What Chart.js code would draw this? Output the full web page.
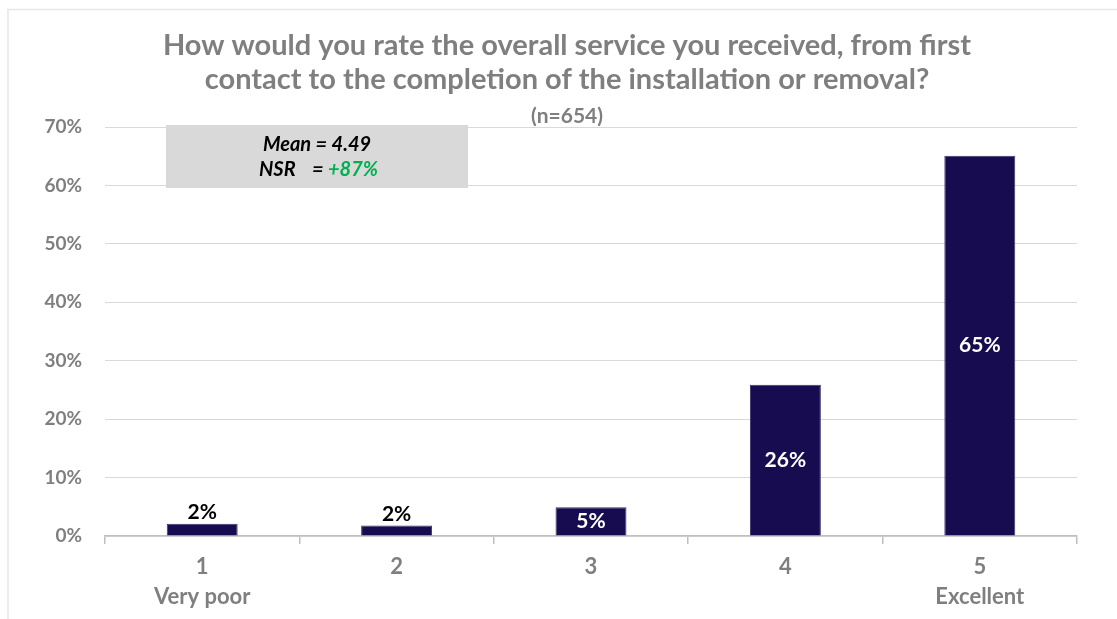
<!DOCTYPE html>
<html>
<head>
<meta charset="utf-8">
<script src="https://cdn.jsdelivr.net/npm/chart.js@4.4.1/dist/chart.umd.min.js"></script>
<style>
  html, body { margin: 0; padding: 0; background: #ffffff; }
  #wrap { position: relative; width: 1117px; height: 619px; }
  canvas { display: block; }
</style>
</head>
<body>
<div id="wrap"><canvas id="chart" width="1117" height="619"></canvas></div>
<script>
// Rating scale categories (multi-line tick labels)
const categories = [["1", "Very poor"], ["2", ""], ["3", ""], ["4", ""], ["5", "Excellent"]];
// Share of respondents per rating, in percent
const shares = [2.1, 1.8, 4.9, 25.9, 65.1];
// Where each value label sits: above the bar or centred inside it
const labelPlacement = ["above", "above", "inside", "inside", "inside"];
// Value axis ticks
const yTicks = [0, 10, 20, 30, 40, 50, 60, 70];

const titleLines = [
  "How would you rate the overall service you received, from first",
  "contact to the completion of the installation or removal?"
];
const subtitleText = "(n=654)";
const meanText = "Mean = 4.49";
const nsrLabel = "NSR";
const nsrValue = "+87%";

const FONT = "Lato, 'Open Sans', 'Liberation Sans', sans-serif";
const GREY = "#7f7f7f";
const BAR = "#170c4f";

// Frame, headline and summary box
const decorations = {
  id: "decorations",
  beforeDraw(chart) {
    const ctx = chart.ctx;
    const W = chart.width, H = chart.height;
    ctx.save();
    ctx.fillStyle = "#ffffff";
    ctx.fillRect(0, 0, W, H);
    // light frame (top and left edges visible)
    ctx.strokeStyle = "#e6e6e6";
    ctx.lineWidth = 1.5;
    ctx.beginPath();
    ctx.moveTo(8, H);
    ctx.lineTo(8, 9.5);
    ctx.lineTo(W, 9.5);
    ctx.stroke();

    // headline
    ctx.fillStyle = GREY;
    ctx.textAlign = "center";
    ctx.textBaseline = "middle";
    ctx.font = "bold 29px " + FONT;
    ctx.fillText(titleLines[0], 567, 46);
    ctx.fillText(titleLines[1], 567, 80);
    ctx.font = "bold 21px " + FONT;
    ctx.fillText(subtitleText, 567, 116);
    ctx.restore();
  },
  afterDatasetsDraw(chart) {
    const ctx = chart.ctx;
    const area = chart.chartArea;
    ctx.save();
    // summary box
    const bx = area.left + 61, by = area.top - 2, bw = 302, bh = 63;
    ctx.fillStyle = "#d9d9d9";
    ctx.fillRect(bx, by, bw, bh);
    const cx = bx + bw / 2;
    ctx.fillStyle = "#000000";
    ctx.font = "italic bold 20px " + FONT;
    ctx.textBaseline = "middle";
    ctx.textAlign = "center";
    ctx.fillText(meanText, cx, by + 20);
    ctx.textAlign = "left";
    ctx.fillText(nsrLabel, cx - 58, by + 45);
    ctx.fillText("=", cx - 5, by + 45);
    ctx.fillStyle = "#00b050";
    ctx.fillText(nsrValue, cx + 11, by + 45);

    // value labels
    const meta = chart.getDatasetMeta(0);
    ctx.font = "bold 21px " + FONT;
    ctx.textAlign = "center";
    meta.data.forEach((bar, i) => {
      const txt = Math.round(shares[i]) + "%";
      if (labelPlacement[i] === "above") {
        ctx.fillStyle = "#000000";
        ctx.textBaseline = "bottom";
        ctx.fillText(txt, bar.x, bar.y - 1);
      } else {
        ctx.fillStyle = "#ffffff";
        ctx.textBaseline = "middle";
        ctx.fillText(txt, bar.x, (bar.y + bar.base) / 2);
      }
    });
    ctx.restore();
  }
};

new Chart(document.getElementById("chart"), {
  type: "bar",
  data: {
    labels: categories,
    datasets: [{
      data: shares,
      backgroundColor: BAR,
      borderColor: "#3b3370",
      borderWidth: 1,
      categoryPercentage: 1,
      barPercentage: 0.365
    }]
  },
  options: {
    responsive: false,
    animation: false,
    devicePixelRatio: 1,
    layout: { padding: { top: 127, right: 40, left: 0, bottom: 0 } },
    plugins: {
      legend: { display: false },
      title: { display: false },
      tooltip: { enabled: false }
    },
    scales: {
      x: {
        offset: true,
        grid: {
          offset: true,
          drawOnChartArea: false,
          drawTicks: true,
          tickLength: 8,
          color: "#bfbfbf",
          lineWidth: 1.5
        },
        border: { display: true, color: "#bfbfbf", width: 1.5 },
        ticks: {
          color: GREY,
          font: { family: FONT, size: 22, weight: "bold", lineHeight: 1.36 },
          padding: 8,
          maxRotation: 0,
          autoSkip: false
        },
        afterFit(scale) { scale.height = 83; }
      },
      y: {
        min: 0,
        max: 70,
        afterBuildTicks(scale) { scale.ticks = yTicks.map(v => ({ value: v })); },
        grid: { color: "#d9d9d9", lineWidth: 1, drawTicks: false },
        border: { display: false },
        ticks: {
          color: GREY,
          font: { family: FONT, size: 19, weight: "bold" },
          padding: 23,
          callback: v => v + "%"
        },
        afterFit(scale) { scale.width = 105; }
      }
    }
  },
  plugins: [decorations]
});
</script>
</body>
</html>
